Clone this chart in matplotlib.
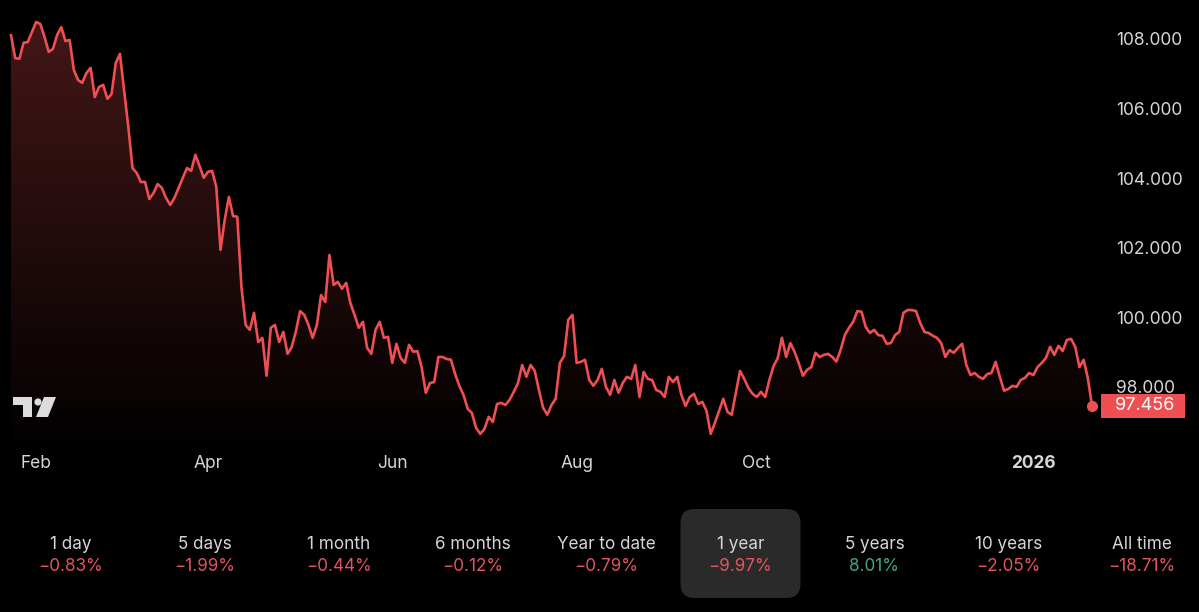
import numpy as np
import pandas as pd
import matplotlib
matplotlib.use('Agg')
import matplotlib.pyplot as plt
from matplotlib.patches import FancyBboxPatch, Rectangle, Circle, Polygon
from matplotlib.transforms import Affine2D, blended_transform_factory

plt.rcParams['font.family'] = ['Inter', 'DejaVu Sans']

# daily closes, one per trading day
start_date = '2025-01-24'
prices = [
    108.11, 107.45, 107.43, 107.89, 107.91, 108.20, 108.49, 108.43, 108.06, 107.63,
    107.71, 108.11, 108.34, 107.94, 107.97, 107.11, 106.82, 106.74, 107.02, 107.17,
    106.33, 106.62, 106.68, 106.28, 106.42, 107.31, 107.57, 106.53, 105.47, 104.29,
    104.15, 103.89, 103.89, 103.40, 103.57, 103.83, 103.72, 103.43, 103.23, 103.43,
    103.72, 104.01, 104.29, 104.21, 104.67, 104.35, 104.01, 104.18, 104.21, 103.75,
    101.94, 102.80, 103.46, 102.91, 102.89, 100.87, 99.78, 99.64, 100.13, 99.29,
    99.41, 98.32, 99.70, 99.78, 99.29, 99.58, 98.95, 99.15, 99.60, 100.18,
    100.07, 99.78, 99.41, 99.78, 100.64, 100.44, 101.79, 100.93, 101.02, 100.82,
    100.99, 100.41, 100.07, 99.70, 99.87, 99.12, 98.95, 99.64, 99.87, 99.41,
    99.44, 98.69, 99.24, 98.83, 98.69, 99.21, 99.01, 99.03, 98.57, 97.83,
    98.11, 98.14, 98.86, 98.86, 98.80, 98.78, 98.37, 98.03, 97.77, 97.37,
    97.25, 96.82, 96.65, 96.79, 97.14, 96.99, 97.51, 97.54, 97.48, 97.63,
    97.86, 98.11, 98.63, 98.29, 98.63, 98.46, 97.91, 97.40, 97.20, 97.48,
    97.66, 98.69, 98.89, 99.93, 100.07, 98.69, 98.72, 98.78, 98.20, 98.03,
    98.20, 98.52, 98.00, 97.77, 98.20, 97.83, 98.11, 98.29, 98.23, 98.63,
    97.71, 98.43, 98.23, 98.20, 97.91, 97.86, 97.71, 98.29, 98.14, 98.29,
    97.77, 97.45, 97.71, 97.80, 97.51, 97.57, 97.31, 96.65, 96.97, 97.31,
    97.66, 97.28, 97.20, 97.83, 98.46, 98.23, 97.97, 97.80, 97.71, 97.86,
    97.71, 98.20, 98.60, 98.83, 99.41, 98.86, 99.26, 99.01, 98.69, 98.32,
    98.49, 98.57, 98.98, 98.86, 98.92, 98.95, 98.86, 98.73, 99.06, 99.49,
    99.70, 99.87, 100.18, 100.16, 99.72, 99.55, 99.64, 99.49, 99.47, 99.24,
    99.26, 99.49, 99.58, 100.13, 100.21, 100.21, 100.18, 99.84, 99.58, 99.55,
    99.47, 99.41, 99.26, 98.86, 99.06, 98.98, 99.12, 99.24, 98.63, 98.34,
    98.40, 98.29, 98.23, 98.37, 98.40, 98.72, 98.29, 97.89, 97.94, 98.03,
    98.00, 98.20, 98.26, 98.40, 98.34, 98.57, 98.69, 98.83, 99.15, 98.92,
    99.18, 99.03, 99.35, 99.38, 99.15, 98.57, 98.78, 98.26, 97.456,
]
last_label = '97.456'
y_ticks = [98, 100, 102, 104, 106, 108]
tick_months = [2, 4, 6, 8, 10, 1]

periods = ['1 day', '5 days', '1 month', '6 months', 'Year to date',
           '1 year', '5 years', '10 years', 'All time']
changes = ['\u22120.83%', '\u22121.99%', '\u22120.44%', '\u22120.12%', '\u22120.79%',
           '\u22129.97%', '8.01%', '\u22122.05%', '\u221218.71%']
selected = '1 year'

RED = '#ef4f52'
RED_TXT = '#e2555e'
GREEN_TXT = '#45a58c'
GRAY = '#d6d6d6'

W, H = 1199, 612
fig = plt.figure(figsize=(W / 100, H / 100), dpi=100, facecolor='black')
# pixel coords, y measured from the top
px = Affine2D().scale(1, -1).translate(0, H).scale(1 / W, 1 / H) + fig.transFigure

ax = fig.add_axes([0, 1 - 445 / H, 1100 / W, 445 / H])
ax.set_facecolor('black')

n = len(prices)
x = np.arange(n)
dates = pd.bdate_range(start=start_date, periods=n)
step = (1092 - 11) / (n - 1)
x0, x1 = -11 / step, (n - 1) + 8 / step
y0, y1 = 96.33, 109.12

# gradient fill under the line
fill = ax.fill_between(x, prices, y0, facecolor='none', edgecolor='none')
grad = np.zeros((256, 1, 4))
grad[..., :3] = matplotlib.colors.to_rgb(RED)
grad[:, 0, 3] = np.linspace(0.30, 0.01, 256)
img = ax.imshow(grad, extent=[x0, x1, y0, y1], aspect='auto', origin='upper', zorder=1)
img.set_clip_path(fill.get_paths()[0], ax.transData)

ax.plot(x, prices, color=RED, lw=1.9, solid_joinstyle='round', zorder=3)
ax.plot(x[-1], prices[-1], 'o', ms=7, color=RED, zorder=4)

ax.set_xlim(x0, x1)
ax.set_ylim(y0, y1)
for s in ax.spines.values():
    s.set_visible(False)

ax.yaxis.tick_right()
ax.set_yticks(y_ticks, [f'{v:.3f}' for v in y_ticks])
ax.tick_params(axis='y', length=0, pad=11.5, labelsize=12.5, labelcolor=GRAY)

# first trading day of each labelled month (skip the partial first month)
tick_idx, tick_lab = [], []
for i in range(1, n):
    if dates[i].month != dates[i - 1].month and dates[i].month in tick_months:
        tick_idx.append(i)
        tick_lab.append(str(dates[i].year) if dates[i].month == 1 else dates[i].strftime('%b'))
ax.set_xticks(tick_idx, tick_lab)
ax.tick_params(axis='x', length=0, pad=7.5, labelsize=12.5, labelcolor=GRAY)
for t in ax.get_xticklabels():
    if t.get_text().isdigit():
        t.set_fontweight('bold')

# last price tag
bt = blended_transform_factory(fig.transFigure, ax.transData)
h = 24 / (445 / (y1 - y0))
ax.add_patch(Rectangle((1101 / W, prices[-1] - h / 2), 84 / W, h, transform=bt,
                       facecolor=RED, edgecolor='none', clip_on=False, zorder=5))
ax.text(1115 / W, prices[-1], last_label, transform=bt, ha='left', va='center',
        fontsize=13, color='white', zorder=6, clip_on=False)

# logo
logo = '#dcdcdc'
fig.patches.append(Rectangle((13, 397), 19, 8, transform=px, facecolor=logo, edgecolor='none'))
fig.patches.append(Rectangle((23, 397), 9, 20, transform=px, facecolor=logo, edgecolor='none'))
fig.patches.append(Circle((38, 402), 3.6, transform=px, facecolor=logo, edgecolor='none'))
fig.patches.append(Polygon([(44, 397), (56, 397), (48, 417), (36, 417)], closed=True,
                           transform=px, facecolor=logo, edgecolor='none'))

# period buttons
for k, (p, c) in enumerate(zip(periods, changes)):
    cx = 71 + 133.9 * k
    if p == selected:
        fig.patches.append(FancyBboxPatch((cx - 60 + 14, 509 + 14), 120 - 28, 89 - 28,
                                          boxstyle='round,pad=14', transform=px,
                                          facecolor='#2a2a2a', edgecolor='none'))
    fig.text(cx, 544.5, p, transform=px, ha='center', va='center', fontsize=12.3, color=GRAY)
    col = RED_TXT if c.startswith('\u2212') else GREEN_TXT
    fig.text(cx, 566.5, c, transform=px, ha='center', va='center', fontsize=12.3, color=col)

fig.savefig('out.png', dpi=100, facecolor='black')
